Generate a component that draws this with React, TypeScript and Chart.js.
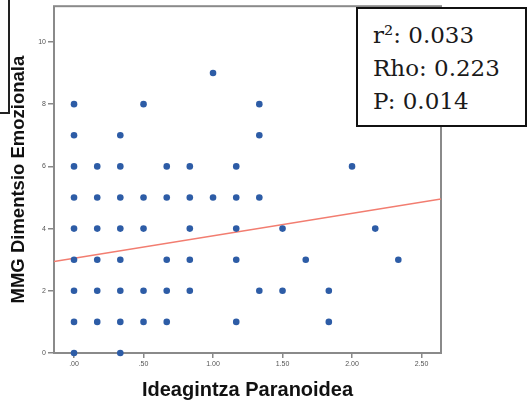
import React, { useEffect, useRef } from "react";
import { Chart, registerables } from "chart.js";

Chart.register(...registerables);

// Scatter points (Ideagintza Paranoidea, MMG Dimentsio Emozionala)
const pointX = [
  1.0,
  0, 0.5, 1.333,
  0, 0.333, 1.333,
  0, 0.167, 0.333, 0.667, 0.833, 1.167, 2.0,
  0, 0.167, 0.333, 0.5, 0.667, 0.833, 1.0, 1.167, 1.333,
  0, 0.167, 0.333, 0.5, 0.833, 1.167, 1.5, 2.167,
  0, 0.167, 0.333, 0.667, 0.833, 1.167, 1.667, 2.333,
  0, 0.167, 0.333, 0.5, 0.667, 0.833, 1.333, 1.5, 1.833,
  0, 0.167, 0.333, 0.5, 0.667, 1.167, 1.833,
  0, 0.333,
];
const pointY = [
  9,
  8, 8, 8,
  7, 7, 7,
  6, 6, 6, 6, 6, 6, 6,
  5, 5, 5, 5, 5, 5, 5, 5, 5,
  4, 4, 4, 4, 4, 4, 4, 4,
  3, 3, 3, 3, 3, 3, 3, 3,
  2, 2, 2, 2, 2, 2, 2, 2, 2,
  1, 1, 1, 1, 1, 1, 1,
  0, 0,
];

// Fit line end points
const fitX = [-0.144, 2.64];
const fitY = [2.94, 4.95];

const xTickValues = [0, 0.5, 1, 1.5, 2, 2.5];
const xTickLabels = [".00", ".50", "1.00", "1.50", "2.00", "2.50"];
const yTickValues = [0, 2, 4, 6, 8, 10];
const yTickLabels = ["0", "2", "4", "6", "8", "10"];

const xRange = [-0.144, 2.64];
const yRange = [0, 11.15];

const xTitle = "Ideagintza Paranoidea";
const yTitle = "MMG Dimentsio Emozionala";
const statLines = ["r²: 0.033", "Rho: 0.223", "P: 0.014"];

export default function App() {
  const ref = useRef<HTMLCanvasElement | null>(null);

  useEffect(() => {
    if (!ref.current) return;
    const framePlugin = {
      id: "frame",
      beforeDatasetsDraw(chart: any) {
        const { left, top, right, bottom } = chart.chartArea;
        const ctx = chart.ctx;
        ctx.save();
        ctx.strokeStyle = "#8a8a8a";
        ctx.lineWidth = 2;
        ctx.strokeRect(left, top, right - left, bottom - top);
        ctx.restore();
      },
    };
    const tickFont = { size: 7, family: "Liberation Sans" };
    const chart = new Chart(ref.current, {
      type: "scatter",
      data: {
        datasets: [
          {
            data: pointX.map((x, i) => ({ x, y: pointY[i] })),
            backgroundColor: "#2d5ca6",
            borderColor: "#2d5ca6",
            borderWidth: 0,
            pointRadius: 3.3,
            clip: false,
          } as any,
          {
            type: "line",
            data: fitX.map((x, i) => ({ x, y: fitY[i] })),
            borderColor: "#f27d70",
            borderWidth: 1.5,
            pointRadius: 0,
            fill: false,
          } as any,
        ],
      },
      options: {
        animation: false,
        responsive: false,
        maintainAspectRatio: false,
        layout: { padding: { top: 4, right: 88, left: 0, bottom: 0 } },
        plugins: { legend: { display: false }, tooltip: { enabled: false } },
        scales: {
          x: {
            type: "linear",
            min: xRange[0],
            max: xRange[1],
            afterFit: (s: any) => {
              s.height = 51;
            },
            afterBuildTicks: (s: any) => {
              s.ticks = xTickValues.map((v) => ({ value: v }));
            },
            ticks: {
              callback: (_v: any, i: number) => xTickLabels[i],
              font: tickFont,
              color: "#555",
              padding: 2,
              maxRotation: 0,
              autoSkip: false,
            },
            grid: {
              drawOnChartArea: false,
              drawTicks: true,
              tickLength: 5,
              color: "#888",
              lineWidth: 1.5,
            },
            border: { display: false },
            title: {
              display: true,
              text: xTitle,
              color: "#111",
              font: { size: 20, weight: "bold", family: "Liberation Sans" },
              padding: { top: 0, bottom: 2 },
            },
          },
          y: {
            type: "linear",
            min: yRange[0],
            max: yRange[1],
            afterFit: (s: any) => {
              s.width = 54;
            },
            afterBuildTicks: (s: any) => {
              s.ticks = yTickValues.map((v) => ({ value: v }));
            },
            ticks: {
              callback: (_v: any, i: number) => yTickLabels[i],
              font: tickFont,
              color: "#555",
              padding: 2,
              autoSkip: false,
            },
            grid: {
              drawOnChartArea: false,
              drawTicks: true,
              tickLength: 6,
              color: "#888",
              lineWidth: 1.5,
            },
            border: { display: false },
            title: {
              display: true,
              text: yTitle,
              color: "#111",
              font: { size: 18.5, weight: "bold", family: "Liberation Sans" },
              padding: { top: 8, bottom: 0 },
            },
          },
        },
      } as any,
      plugins: [framePlugin],
    });
    return () => chart.destroy();
  }, []);

  return (
    <div
      style={{
        position: "absolute",
        left: 0,
        top: 0,
        width: 529,
        height: 404,
        background: "#fff",
      }}
    >
      <canvas ref={ref} width={529} height={404} style={{ display: "block" }} />
      <div
        style={{
          position: "absolute",
          left: 0,
          top: 0,
          width: 10,
          height: 114,
          boxSizing: "border-box",
          borderRight: "2px solid #222",
          borderBottom: "2px solid #222",
        }}
      />
      <div
        style={{
          position: "absolute",
          left: 356,
          top: 7,
          width: 171,
          height: 120,
          boxSizing: "border-box",
          border: "2px solid #111",
          background: "#fff",
          fontFamily: "'DejaVu Serif', serif",
          fontSize: 23,
          lineHeight: "33px",
          paddingLeft: 15,
          paddingTop: 10,
          color: "#1a1a1a",
          whiteSpace: "nowrap",
        }}
      >
        {statLines.map((t, i) => (
          <div key={i}>{t}</div>
        ))}
      </div>
    </div>
  );
}
